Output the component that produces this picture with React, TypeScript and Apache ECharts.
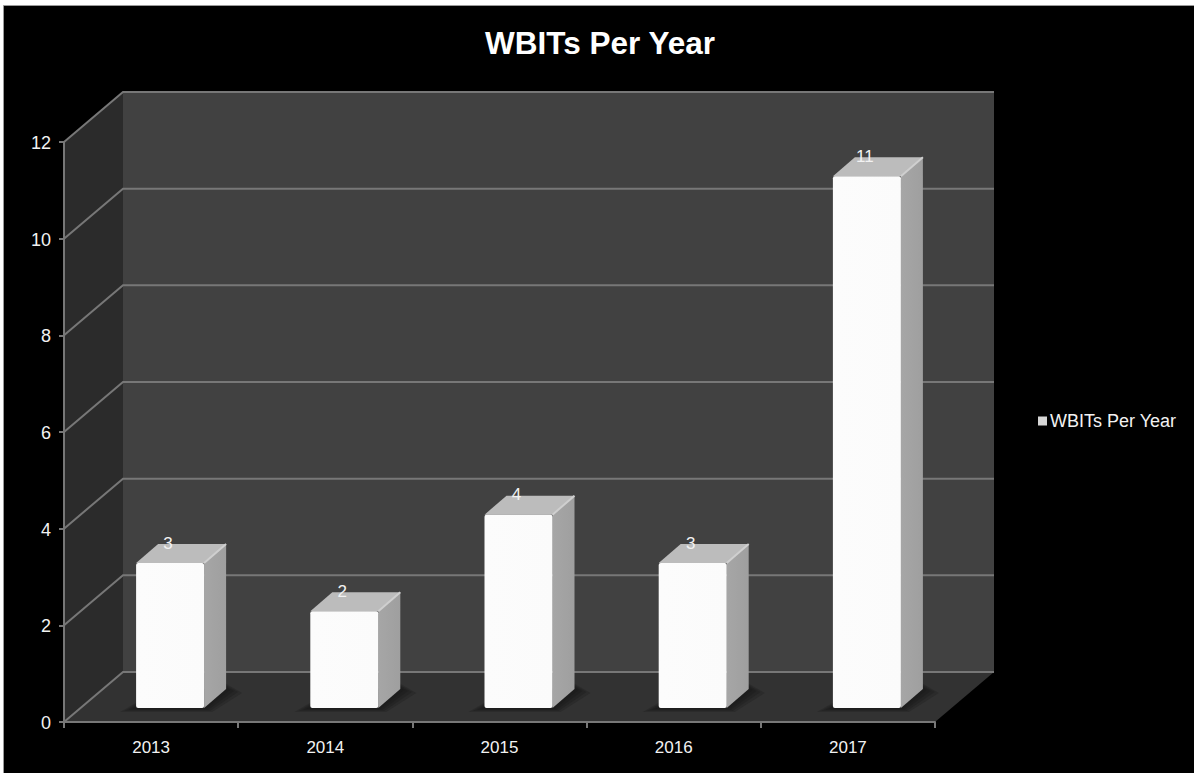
import React, { useEffect, useRef } from "react";
import * as echarts from "echarts";

const chartTitle = "WBITs Per Year";
const seriesName = "WBITs Per Year";
const years = ["2013", "2014", "2015", "2016", "2017"];
const counts = [3, 2, 4, 3, 11];
const yTicks = [0, 2, 4, 6, 8, 10, 12];

const FONT = '"Liberation Sans", Arial, sans-serif';
const WALL_DX = 59;
const WALL_DY = -50;
const BAR_WIDTH = 68;
const BAR_SHIFT_X = 19;
const BAR_LIFT = 14;
const BAR_DEPTH_X = 22;
const BAR_DEPTH_Y = -19;
const EDGE = "#777777";
const SHADOW_SPREADS = [16, 12, 8, 4];

// Left wall, back wall and floor of the box
function renderPanels(params: any, api: any) {
  const sys = params.coordSys;
  const x0 = sys.x;
  const x1 = sys.x + sys.width;
  const top = api.coord([0, yTicks[yTicks.length - 1]])[1];
  const base = api.coord([0, yTicks[0]])[1];
  const panel = (points: number[][], fill: string) => ({
    type: "polygon",
    shape: { points },
    style: { fill },
  });
  return {
    type: "group",
    children: [
      panel(
        [
          [x0, base],
          [x0 + WALL_DX, base + WALL_DY],
          [x0 + WALL_DX, top + WALL_DY],
          [x0, top],
        ],
        "#2b2b2b",
      ),
      panel(
        [
          [x0 + WALL_DX, base + WALL_DY],
          [x1 + WALL_DX, base + WALL_DY],
          [x1 + WALL_DX, top + WALL_DY],
          [x0 + WALL_DX, top + WALL_DY],
        ],
        "#414141",
      ),
      panel(
        [
          [x0, base],
          [x1, base],
          [x1 + WALL_DX, base + WALL_DY],
          [x0 + WALL_DX, base + WALL_DY],
        ],
        "#323232",
      ),
    ],
  };
}

// One gridline per tick: a diagonal on the left wall, then across the back wall
function renderGridline(params: any, api: any) {
  const sys = params.coordSys;
  const y = api.coord([0, api.value(1)])[1];
  const x0 = sys.x;
  const x1 = sys.x + sys.width;
  return {
    type: "polyline",
    shape: {
      points: [
        [x0, y],
        [x0 + WALL_DX, y + WALL_DY],
        [x1 + WALL_DX, y + WALL_DY],
      ],
    },
    style: { fill: "none", stroke: EDGE, lineWidth: 2 },
  };
}

// Box-shaped column with its floor shadow and value label
function renderColumn(_params: any, api: any) {
  const value = api.value(1);
  const [cx, cyTop] = api.coord([api.value(0), value]);
  const cyBase = api.coord([api.value(0), 0])[1];
  const left = cx + BAR_SHIFT_X - BAR_WIDTH / 2;
  const right = left + BAR_WIDTH;
  const bottom = cyBase - BAR_LIFT;
  const top = cyTop - BAR_LIFT;
  const dx = BAR_DEPTH_X;
  const dy = BAR_DEPTH_Y;
  // Stacked translucent polygons fade the shadow out towards its rim
  const shadowLayers = SHADOW_SPREADS.map((spread) => ({
    type: "polygon",
    shape: {
      points: [
        [left - spread, bottom + spread / 4],
        [right + spread / 2, bottom + spread / 4],
        [right + dx + spread, bottom + dy + spread / 4],
        [right + dx, bottom + dy - spread / 3],
        [left, bottom - spread / 3],
      ],
    },
    style: { fill: "#111111", opacity: 0.22 },
  }));
  return {
    type: "group",
    children: [
      ...shadowLayers,
      {
        type: "polygon",
        shape: {
          points: [
            [right, top],
            [right + dx, top + dy],
            [right + dx, bottom + dy],
            [right, bottom],
          ],
        },
        style: {
          fill: new echarts.graphic.LinearGradient(0, 0, 1, 0, [
            { offset: 0, color: "#a6a6a6" },
            { offset: 1, color: "#9f9f9f" },
          ]),
        },
      },
      {
        type: "polygon",
        shape: {
          points: [
            [left, top],
            [right, top],
            [right + dx, top + dy],
            [left + dx, top + dy],
          ],
        },
        style: { fill: "#bcbcbc" },
      },
      {
        type: "line",
        shape: { x1: right, y1: top, x2: right + dx, y2: top + dy },
        style: { stroke: "#cfcfcf", lineWidth: 2 },
      },
      {
        type: "rect",
        shape: { x: left, y: top, width: BAR_WIDTH, height: bottom - top, r: 2 },
        style: {
          fill: new echarts.graphic.LinearGradient(0, 0, 1, 0, [
            { offset: 0, color: "#fcfcfc" },
            { offset: 1, color: "#fbfbfb" },
          ]),
        },
      },
      {
        type: "text",
        style: {
          x: cx + BAR_SHIFT_X - 2,
          y: top - 20,
          text: String(value),
          fill: "#f2f2f2",
          font: `17px ${FONT}`,
          align: "center",
          verticalAlign: "middle",
        },
      },
    ],
  };
}

export default function App() {
  const ref = useRef<HTMLDivElement>(null);

  useEffect(() => {
    document.body.style.margin = "0";
    const chart = echarts.init(ref.current!, null, { renderer: "svg" });
    chart.setOption({
      animation: false,
      backgroundColor: "#ffffff",
      graphic: [
        {
          type: "rect",
          z: -1,
          shape: { x: 3.5, y: 5.5, width: 1200, height: 780 },
          style: { fill: "#000000", stroke: "#9a9a9a", lineWidth: 1 },
        },
      ],
      title: {
        text: chartTitle,
        left: 595,
        top: 22,
        textAlign: "center",
        textStyle: {
          color: "#ffffff",
          fontFamily: FONT,
          fontWeight: "bold",
          fontSize: 31.5,
        },
      },
      legend: {
        data: [seriesName],
        left: 1038,
        top: 412,
        itemWidth: 9,
        itemHeight: 9,
        itemGap: 0,
        padding: 0,
        icon: "rect",
        textStyle: {
          color: "#f2f2f2",
          fontFamily: FONT,
          fontSize: 18,
          padding: [2, 0, 0, -2],
        },
      },
      grid: { left: 64, top: 142, width: 871, height: 580 },
      xAxis: {
        type: "category",
        data: years,
        z: 5,
        axisTick: { show: true, length: 6, alignWithLabel: false, lineStyle: { color: EDGE, width: 2 } },
        axisLine: { lineStyle: { color: EDGE, width: 2 } },
        axisLabel: { color: "#f2f2f2", fontFamily: FONT, fontSize: 17, margin: 17 },
        splitLine: { show: false },
      },
      yAxis: {
        type: "value",
        min: 0,
        max: 12,
        interval: 2,
        z: 5,
        axisLine: { show: true, lineStyle: { color: EDGE, width: 2 } },
        axisTick: { show: true, length: 5, lineStyle: { color: EDGE, width: 2 } },
        axisLabel: {
          color: "#f2f2f2",
          fontFamily: FONT,
          fontSize: 18,
          margin: 12,
          verticalAlign: "bottom",
          padding: [0, 1, -10, 0],
        },
        splitLine: { show: false },
      },
      series: [
        {
          type: "custom",
          name: "panels",
          z: 1,
          silent: true,
          renderItem: renderPanels,
          encode: { x: 0, y: 1 },
          data: [[0, 0]],
        },
        {
          type: "custom",
          name: "gridlines",
          z: 2,
          silent: true,
          renderItem: renderGridline,
          encode: { x: 0, y: 1 },
          data: yTicks.map((t) => [0, t]),
        },
        {
          type: "custom",
          name: seriesName,
          z: 3,
          renderItem: renderColumn,
          encode: { x: 0, y: 1 },
          itemStyle: { color: "#d6d6d6" },
          data: counts.map((c, i) => [i, c]),
        },
      ],
    });
    return () => chart.dispose();
  }, []);

  return <div ref={ref} style={{ width: 1194, height: 773 }} />;
}
